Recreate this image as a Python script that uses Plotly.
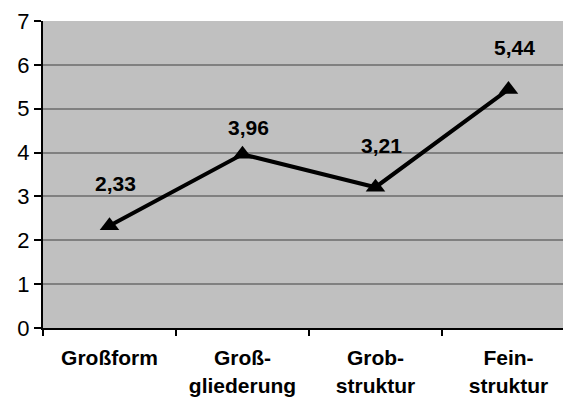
import plotly.graph_objects as go

categories = ["Großform", "Groß-<br>gliederung", "Grob-<br>struktur", "Fein-<br>struktur"]
values = [2.33, 3.96, 3.21, 5.44]
y_ticks = [0, 1, 2, 3, 4, 5, 6, 7]

label_shift = [42, 27, 42, 42]

font_family = "Liberation Sans, Arial, sans-serif"

fig = go.Figure()
fig.add_trace(go.Scatter(
    x=categories, y=values, mode="lines+markers",
    line=dict(color="black", width=4),
    marker=dict(symbol="triangle-up", size=17, color="black"),
    showlegend=False, hoverinfo="skip", cliponaxis=False,
))

for c, v, s in zip(categories, values, label_shift):
    fig.add_annotation(
        x=c, y=v, text="<b>" + f"{v:.2f}".replace(".", ",") + "</b>",
        showarrow=False, yshift=s, xshift=6, yanchor="middle",
        font=dict(family=font_family, size=21, color="black"),
    )

fig.update_layout(
    width=563, height=398,
    margin=dict(l=43, r=0, t=21, b=70, autoexpand=False),
    paper_bgcolor="white", plot_bgcolor="#C0C0C0",
    font=dict(family=font_family, color="black"),
)
fig.update_xaxes(
    type="category", range=[-0.5, 3.41], automargin=False,
    tickson="boundaries", ticks="outside", ticklen=6, tickwidth=2, tickcolor="black",
    showline=True, linecolor="black", linewidth=2,
    showgrid=False, zeroline=False,
    tickfont=dict(family=font_family, size=21, color="black"),
    tickangle=0, ticklabelstandoff=10,
)
fig.update_xaxes(ticktext=["<b>" + c + "</b>" for c in categories], tickvals=categories)
fig.update_yaxes(
    range=[0, 7], tickvals=y_ticks, ticks="outside", ticklen=7, tickwidth=2, tickcolor="black",
    showline=True, linecolor="black", linewidth=2, automargin=False,
    showgrid=True, gridcolor="#808080", gridwidth=2, zeroline=False,
    tickfont=dict(family=font_family, size=22, color="black"),
)

fig.write_html(
    "out.html",
    config={"displayModeBar": False},
    post_script="document.body.style.margin='0';document.body.style.overflow='hidden';",
)
